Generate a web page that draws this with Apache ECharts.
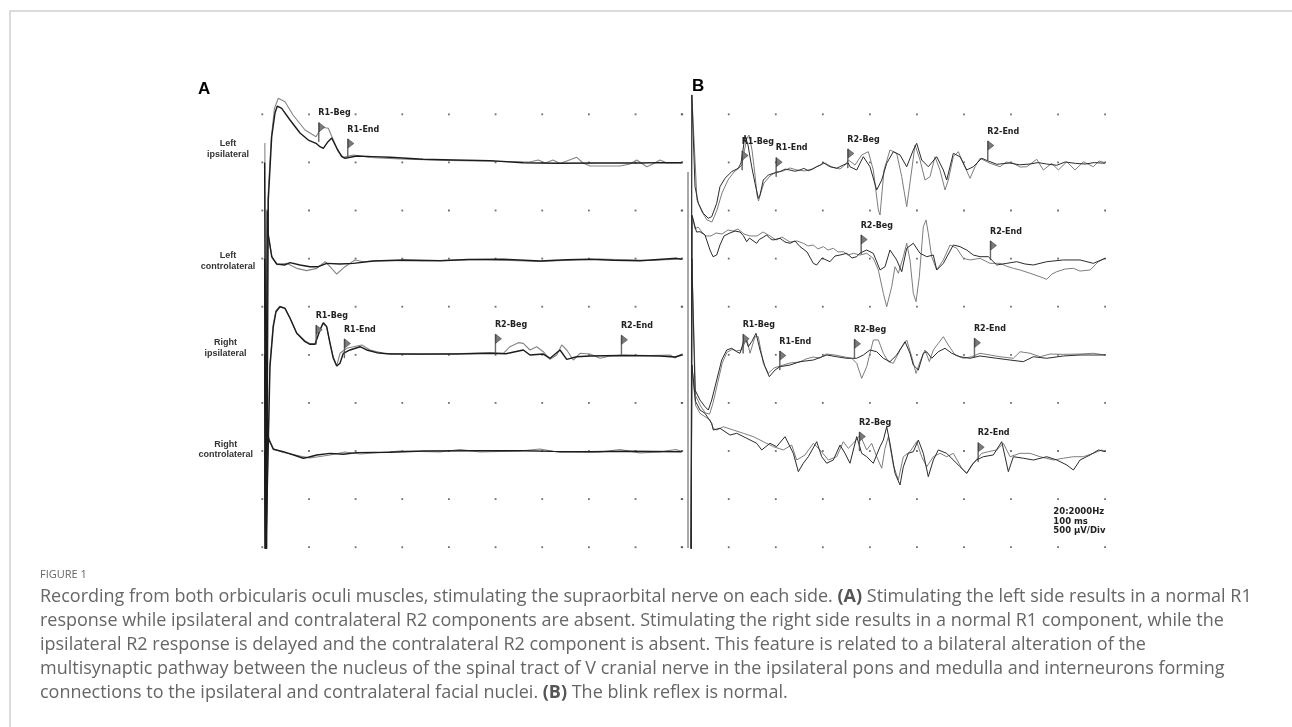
<!DOCTYPE html>
<html><head><meta charset="utf-8">
<script src="https://cdn.jsdelivr.net/npm/echarts@6/dist/echarts.min.js"></script>
<style>html,body{margin:0;padding:0;background:#fff}#c{width:1292px;height:727px}</style>
</head><body><div id="c"></div><script>
// ---- data: time in ms, amplitude in µV relative to each channel baseline ----
const A1_dark = [[0.5,0],[0.9,-4300],[1.1,-4300],[1.28,-390],[2.01,267],[2.71,512],[3.2,585],[4.14,561],[5.92,440],[8.05,305],[9.82,232],[11.47,198],[12.32,163],[13.03,146],[14.03,215],[14.82,253],[15.89,149],[16.96,59],[17.66,43],[20.16,66],[23.5,60],[27.27,53],[34.32,32],[41,25],[48.62,18],[55.67,-3],[62.93,-9],[72.1,-6],[80.65,-6],[85,-2],[89.56,-3]];
const A1_light = [[0.55,200],[0.65,-4300],[1.0,-4300],[1.2,-380],[1.9,250],[2.6,560],[3.42,665],[4.85,630],[6.56,492],[9.12,336],[11.47,267],[12.68,364],[14.09,354],[15.16,232],[16.23,111],[17.3,53],[19.43,77],[23.0,51],[29.4,35],[40.1,20],[50.7,9],[57.1,4],[58.94,25],[60.4,-6],[62.08,25],[63.6,-11],[67.14,53],[68.48,-6],[69.97,-37],[73.2,-37],[76.4,-37],[78.5,-17],[79.95,25],[80.9,-6],[82.09,-45],[83.4,-17],[84.92,25],[86.4,-6],[89.56,-3]];
const A2_dark = [[0.5,0],[0.7,-3300],[0.95,-3300],[1.05,500],[1.22,268],[2.01,22],[3.07,-54],[4.85,-64],[5.92,-40],[8.05,-64],[10.19,-82],[11.96,-82],[13.75,-47],[16.59,-54],[19.43,-47],[23.7,-23],[30.11,-12],[37.95,-20],[44,-8],[51.47,-5],[59.29,-23],[65,-10],[69.97,-5],[75,-15],[80.65,-20],[88.49,5],[89.56,-5]];
const A2_light = [[0.5,0],[0.7,-3300],[0.95,-3300],[1.05,520],[1.25,250],[2.1,10],[3.2,-60],[5.21,-47],[7.35,-99],[9.48,-123],[11.62,-99],[13.39,-30],[14.46,-82],[15.89,-158],[17.66,-82],[19.8,-12],[21.57,-30],[25.1,-18],[33.7,-23],[46.5,-7],[59.3,-28],[72.1,-2],[82.8,-18],[89.56,-2]];
const A3_dark = [[0.5,0],[0.7,-2200],[1.1,-2200],[1.64,-119],[2.35,296],[2.93,451],[3.78,503],[4.85,486],[5.92,383],[7.35,227],[9.12,140],[10.19,113],[11.25,113],[12.32,261],[13.03,337],[13.75,296],[14.46,123],[15.16,-32],[15.89,-112],[16.59,-84],[17.3,20],[18.73,54],[20.86,88],[22.29,54],[24.43,26],[27.27,12],[41.51,12],[48.62,20],[52,15],[55.73,54],[57.16,2],[60.0,12],[61.44,-32],[63.57,54],[65.0,-43],[67.14,-16],[69.97,-8],[76.4,-3],[84.9,-8],[88.1,-19],[89.56,2]];
const A3_light = [[0.5,0],[0.7,-2200],[1.05,-2200],[1.6,-100],[2.3,310],[2.9,460],[3.7,508],[4.8,490],[5.9,390],[7.3,235],[9.1,150],[10.2,120],[11.3,118],[12.2,250],[12.9,330],[13.7,300],[14.4,140],[15.1,-10],[15.89,-112],[16.59,20],[18.02,72],[21.23,106],[23.0,54],[25.84,20],[33.7,7],[48.62,26],[51.47,20],[52.89,88],[54.67,130],[55.73,123],[57.16,54],[58.59,88],[60.0,36],[61.44,-43],[62.87,2],[63.93,106],[65.0,54],[66.41,-50],[67.84,20],[69.97,12],[72.1,-32],[74.23,-8],[77.09,2],[82.8,-3],[87.1,2],[88.1,-29],[89.56,12]];
const A4_dark = [[0.5,0],[0.65,-1200],[0.9,-1200],[1.1,350],[1.3,150],[1.43,120],[2.35,24],[4.48,-1],[7.35,-46],[8.76,-69],[9.82,-59],[11.62,-35],[14.46,-18],[17.3,-28],[20.16,-11],[27.27,-7],[34.38,6],[45.06,9],[55.73,9],[62,2],[69.97,-1],[78,3],[89.56,-1]];
const A4_light = [[0.5,0],[0.65,-1200],[0.9,-1200],[1.1,370],[1.35,140],[2.4,30],[4.5,-10],[8.05,-46],[10.19,-66],[14.46,-35],[17.66,-4],[20.9,-25],[29.4,6],[37.9,-4],[42.2,22],[46.5,-4],[55.0,6],[59.3,27],[63.6,-9],[72.1,-4],[76.4,22],[80.6,-15],[84.9,-4],[88.3,22],[89.56,1]];

const B1_dark = [[1.95,-4500],[2.1,700],[2.78,-252],[3.48,-424],[4.55,-528],[5.62,-580],[6.34,-563],[7.41,-424],[8.11,-252],[9.18,-165],[10.61,-96],[12.02,-61],[12.6,-6],[13.03,129],[13.45,284],[14.09,180],[14.88,-45],[15.59,-217],[16.29,-372],[16.66,-338],[17.36,-183],[18.43,-131],[19.5,-113],[20.93,-96],[22.0,-70],[23.06,-79],[24.1,-92],[25.2,-79],[26.0,-62],[26.97,-86],[27.9,-70],[28.76,-45],[29.5,-30],[30.17,-3],[31.6,-45],[33.03,-61],[34.44,-27],[35.5,-6],[35.87,-45],[37.3,-79],[38.71,59],[40.14,-45],[41.57,-286],[42.64,-183],[43.71,-9],[45.12,111],[46.55,77],[47.98,-45],[49.39,129],[50.11,198],[51.18,25],[52.59,-45],[54.39,59],[55.8,-79],[56.52,-183],[57.93,94],[59.36,59],[60.79,-79],[62.2,-45],[64.0,43],[64.85,25],[67.2,-20],[70.04,-6],[72.0,-25],[74.31,-17],[76.0,-2],[77.88,-17],[80.0,-30],[81.8,4],[84.0,-10],[86.1,-17],[88.0,-2],[90.3,-9]];
const B1_light = [[1.95,-4500],[2.1,700],[3.2,-390],[4.27,-514],[5.34,-597],[6.41,-618],[7.47,-494],[8.54,-317],[9.82,-183],[11.1,-100],[12.17,-58],[12.81,-27],[13.35,129],[13.88,253],[14.31,284],[14.95,129],[15.59,-131],[16.02,-338],[16.34,-400],[16.87,-307],[17.51,-214],[18.79,-141],[20.07,-100],[21.57,-89],[23.06,-58],[24.56,-79],[26.26,-89],[27.76,-68],[29.04,-37],[30.54,-6],[32.03,-48],[33.74,-68],[35.02,-17],[35.51,25],[36.94,-27],[38.37,77],[39.78,111],[40.85,-79],[41.92,-494],[42.28,-546],[43.13,-79],[44.41,129],[45.84,94],[46.91,-148],[47.98,-460],[49.05,-79],[49.75,180],[50.82,25],[51.89,-183],[52.96,-148],[54.02,59],[55.09,-79],[56.16,-286],[56.86,-183],[57.93,59],[59.0,111],[60.07,-9],[61.5,-165],[62.57,-45],[63.63,43],[65.77,-9],[67.91,-45],[69.2,4],[70.75,-9],[72.18,-48],[73.6,-45],[75.74,32],[77.15,-79],[78.94,-9],[80.36,-79],[82.15,7],[83.93,-79],[85.69,7],[87.83,-45],[89.05,15],[90.33,-3]];
const B2_dark = [[1.95,-3500],[2.15,450],[3.1,278],[3.84,281],[4.91,247],[5.98,91],[6.62,22],[7.41,39],[8.11,143],[8.97,237],[10.25,268],[11.32,288],[12.39,278],[13.1,240],[13.82,177],[14.4,215],[14.95,195],[15.95,161],[16.5,200],[17.08,216],[18.09,247],[18.8,210],[19.43,195],[20.93,213],[21.99,174],[23.06,161],[24.13,185],[25.2,126],[26.69,71],[28.04,-47],[28.76,-64],[29.9,8],[31.6,-30],[32.67,29],[33.74,39],[35.17,57],[36.3,8],[37.3,22],[38.01,60],[39.44,91],[40.85,57],[42.28,-116],[43.35,-82],[44.41,91],[45.84,-12],[46.91,-134],[47.98,109],[49.39,161],[50.82,57],[52.25,22],[53.66,39],[54.39,-116],[55.8,-47],[57.93,143],[59.36,126],[60.79,91],[62.2,39],[63.63,22],[65.41,22],[67.2,-64],[69.34,-47],[71.47,-30],[73.24,-54],[75.02,-64],[77.88,-30],[81.42,-12],[84.99,-12],[87.83,-47],[90.33,5]];
const B2_light = [[1.95,-3500],[2.15,450],[2.78,309],[3.42,330],[4.27,278],[5.12,237],[6.19,237],[7.26,268],[8.54,257],[9.82,299],[10.89,288],[11.96,309],[13.24,257],[14.52,237],[16.02,237],[17.3,278],[18.79,237],[20.07,195],[21.35,226],[23.06,174],[24.56,185],[25.9,161],[26.9,133],[28.04,143],[29.04,102],[30.17,126],[31.18,91],[32.31,109],[33.31,71],[34.44,74],[35.45,39],[36.59,57],[38.01,39],[39.44,57],[40.85,5],[41.92,-116],[42.99,-358],[43.71,-497],[44.78,-289],[45.48,-82],[46.19,-150],[47.26,22],[47.98,161],[48.68,-12],[49.39,-358],[49.97,-445],[50.67,-186],[51.53,333],[52.1,403],[52.59,265],[53.31,22],[54.39,-116],[55.8,-12],[57.23,143],[58.66,109],[60.07,5],[61.5,-12],[63.63,5],[65.77,-47],[67.91,-47],[69.2,-75],[70.75,-99],[72.18,-116],[74.31,-150],[76.45,-186],[77.88,-213],[79.0,-158],[80.0,-134],[81.8,-106],[83.58,-99],[85.0,-127],[87.13,-116],[88.91,-30],[90.33,5]];
const B3_dark = [[1.95,-2200],[2.1,1000],[2.78,-361],[3.84,-465],[4.91,-534],[5.62,-569],[6.34,-465],[7.41,-257],[8.48,-50],[9.55,54],[10.61,72],[11.68,36],[12.39,20],[13.45,192],[14.16,88],[14.88,140],[15.8,227],[16.66,54],[17.72,-119],[18.64,-223],[19.86,-154],[20.93,-119],[23.06,-102],[25.2,-67],[28.04,-50],[30.9,2],[33.03,-16],[35.17,-32],[36.24,-32],[37.3,-32],[38.71,2],[40.14,54],[41.57,36],[42.99,-32],[44.41,-67],[45.84,2],[47.62,140],[48.68,20],[49.39,-102],[50.46,-154],[51.53,20],[52.25,36],[53.31,-32],[54.73,36],[56.16,72],[57.59,20],[59.36,-16],[61.5,-32],[63.63,-8],[67.2,-32],[70.04,-50],[72.88,-67],[75.02,-16],[77.88,-32],[81.42,-8],[84.99,2],[90.33,2]];
const B3_light = [[1.95,-2200],[2.1,1000],[2.9,-420],[4.0,-530],[5.0,-600],[5.9,-610],[6.6,-500],[7.6,-290],[8.6,-80],[9.6,30],[10.7,60],[11.7,45],[12.75,54],[13.82,175],[14.52,20],[15.59,192],[16.29,192],[17.36,-84],[18.43,-188],[19.65,-133],[20.93,-112],[23.06,-81],[25.2,-70],[26.48,-39],[27.97,-19],[29.47,-29],[30.75,12],[32.67,2],[34.81,-19],[36.24,-32],[37.3,-84],[38.37,-240],[39.44,-119],[40.85,158],[41.92,158],[42.99,20],[44.06,-67],[45.12,-84],[46.55,54],[47.98,158],[49.05,-16],[49.97,-188],[50.82,-67],[51.89,54],[52.81,-67],[53.66,54],[54.73,123],[55.8,192],[56.86,106],[58.3,2],[60.07,-32],[61.86,-16],[63.63,20],[65.77,2],[67.91,-16],[70.75,-32],[72.18,36],[74.31,20],[76.45,-16],[78.58,12],[81.42,9],[84.99,12],[87.83,20],[90.33,2]];
const B4_dark = [[1.95,-1200],[2.1,900],[2.9,520],[3.84,432],[4.91,397],[5.62,345],[6.34,294],[6.68,224],[8.11,242],[10.25,172],[11.68,190],[13.82,138],[15.95,86],[17.02,17],[18.79,86],[20.2,51],[21.99,155],[23.77,-18],[24.84,-208],[25.9,-121],[26.97,-53],[28.76,103],[29.83,-53],[30.9,-121],[32.31,-87],[33.74,68],[34.81,-18],[35.87,-121],[37.3,155],[38.37,-18],[39.44,-53],[40.85,-121],[42.28,51],[42.99,120],[43.71,258],[44.41,86],[45.48,-225],[46.55,-346],[47.26,-157],[48.32,-18],[49.39,-1],[50.46,120],[51.53,-18],[52.59,-260],[53.66,-87],[54.73,17],[56.52,-18],[57.93,-87],[59.36,-157],[60.79,-225],[62.2,-121],[62.92,-87],[64.34,-53],[66.47,-35],[68.27,103],[69.68,-208],[70.75,-53],[72.88,-69],[75.02,-87],[77.88,-53],[80.02,-87],[82.15,-139],[83.58,-191],[84.99,-87],[87.13,-35],[88.91,17],[90.33,-1]];
const B4_light = [[1.95,-1200],[2.1,900],[2.9,480],[3.84,397],[5.98,328],[6.68,242],[7.41,224],[8.82,258],[10.95,224],[13.09,190],[15.23,155],[17.36,103],[19.5,51],[21.63,17],[23.42,68],[24.49,-87],[26.26,-35],[28.04,86],[29.47,17],[31.24,-87],[33.03,-53],[34.44,103],[35.51,34],[36.59,86],[38.01,172],[39.44,17],[40.5,86],[41.57,-53],[42.64,-173],[43.35,34],[44.06,155],[45.12,-139],[46.19,-295],[47.26,-53],[48.68,-1],[50.11,103],[51.18,-53],[52.25,-157],[53.66,-53],[55.09,-18],[56.52,-53],[57.93,-18],[59.73,-173],[60.79,-225],[61.86,-139],[62.78,-87],[64.0,-18],[65.41,-1],[67.2,17],[68.61,86],[70.04,-53],[72.18,-18],[74.31,-18],[76.45,-53],[79.3,-87],[81.42,-69],[83.56,-53],[85.69,-53],[87.83,-18],[89.62,17],[90.33,-1]];

// cursor flags: [label, time ms, amplitude µV]
const flagsA1 = [['R1-Beg',11.62,215],['R1-End',17.81,46]];
const flagsA3 = [['R1-Beg',11.04,113],['R1-End',17.08,-29],['R2-Beg',49.33,20],['R2-End',76.23,9]];
const flagsB1 = [['R1-Beg',12.39,-79],['R1-End',19.65,-148],['R2-Beg',34.96,-58],['R2-End',64.85,25]];
const flagsB2 = [['R2-Beg',37.8,50],['R2-End',65.41,-12]];
const flagsB3 = [['R1-Beg',12.6,20],['R1-End',20.44,-154],['R2-Beg',36.37,-32],['R2-End',61.99,-22]];
const flagsB4 = [['R2-Beg',37.43,6],['R2-End',62.78,-105]];

const divCols = [0,1,2,3,4,5,6,7,8,9];
const divRows = [0,1,2,3,4,5,6,7,8,9];
const channelNames = [['Left','ipsilateral'],['Left','controlateral'],['Right','ipsilateral'],['Right','controlateral']];
const panelLetters = ['A','B'];
const settingsText = ['20:2000Hz','100 ms','500 µV/Div'];
const figureLabel = 'FIGURE 1';
const captionLines = [
 'Recording from both orbicularis oculi muscles, stimulating the supraorbital nerve on each side. {b|(A)} Stimulating the left side results in a normal R1',
 'response while ipsilateral and contralateral R2 components are absent. Stimulating the right side results in a normal R1 component, while the',
 'ipsilateral R2 response is delayed and the contralateral R2 component is absent. This feature is related to a bilateral alteration of the',
 'multisynaptic pathway between the nucleus of the spinal tract of V cranial nerve in the ipsilateral pons and medulla and interneurons forming',
 'connections to the ipsilateral and contralateral facial nuclei. {b|(B)} The blink reflex is normal.'
];

// ---- layout ----
const panels = [
  {dot:{left:262.3,width:419.9}, trace:{left:262.3,width:421.5,max:90},
   ch:[[A1_dark,A1_light,flagsA1],[A2_dark,A2_light,null],[A3_dark,A3_light,flagsA3],[A4_dark,A4_light,null]],
   dark:'#1c1c1c', light:'#858585', dw:1.4, lw:1.1},
  {dot:{left:681.7,width:423.4}, trace:{left:682,width:426.2,max:91},
   ch:[[B1_dark,B1_light,flagsB1],[B2_dark,B2_light,flagsB2],[B3_dark,B3_light,flagsB3],[B4_dark,B4_light,flagsB4]],
   dark:'#2b2b2b', light:'#7d7d7d', dw:1.0, lw:1.0}
];
const chRanges = [[-4000,1000],[-3000,2000],[-2000,3000],[-1000,4000]];
const FLAG = 'path://M0,0 L1,0 L1,19 L0,19 Z M1,0 L11,4.5 L1,9 Z';

const grid=[], xAxis=[], yAxis=[], series=[];
panels.forEach(p=>{
  const gi = grid.length;
  grid.push({left:p.dot.left, top:114.3, width:p.dot.width, height:432.9});
  xAxis.push({gridIndex:gi,type:'value',min:0,max:9,show:false});
  yAxis.push({gridIndex:gi,type:'value',min:0,max:9,show:false});
  const pts=[]; divCols.forEach(c=>divRows.forEach(r=>pts.push([c,r])));
  series.push({type:'scatter',xAxisIndex:gi,yAxisIndex:gi,data:pts,symbol:'rect',symbolSize:1.8,
    itemStyle:{color:'#4a4a4a'},silent:true,z:1});
});
panels.forEach(p=>{
  p.ch.forEach((c,k)=>{
    const gi = grid.length;
    grid.push({left:p.trace.left, top:66, width:p.trace.width, height:482});
    xAxis.push({gridIndex:gi,type:'value',min:0,max:p.trace.max,show:false});
    yAxis.push({gridIndex:gi,type:'value',min:chRanges[k][0],max:chRanges[k][1],show:false});
    series.push({type:'line',xAxisIndex:gi,yAxisIndex:gi,data:c[1],showSymbol:false,symbol:'none',
      lineStyle:{color:p.light,width:p.lw},silent:true,z:2});
    const s = {type:'line',xAxisIndex:gi,yAxisIndex:gi,data:c[0],showSymbol:false,symbol:'none',
      lineStyle:{color:p.dark,width:p.dw},silent:true,z:3};
    if(c[2]){
      s.markPoint = {symbol:FLAG,symbolSize:[11,19],symbolOffset:[5,-9.5],symbolKeepAspect:true,silent:true,
        itemStyle:{color:'#7a7a7a',borderColor:'#3a3a3a',borderWidth:0.5},
        label:{show:true,position:[0,-9],align:'left',verticalAlign:'middle',formatter:'{b}',
          fontFamily:'DejaVu Sans',fontWeight:'bold',fontSize:8,color:'#222'},
        data:c[2].map(f=>({name:f[0],coord:[f[1],f[2]]}))};
    }
    series.push(s);
  });
});

// caption font size fitted so the first caption line spans the same width as in the figure
const CAP_FONT = '"Open Sans"';
const mctx = document.createElement('canvas').getContext('2d');
mctx.font = '16px ' + CAP_FONT;
const w1 = mctx.measureText(captionLines[0].replace('{b|','').replace('}','')).width;
let capSize = 16 * 1210 / w1; capSize = Math.max(13, Math.min(19, capSize));

const graphic = [
  {type:'polyline',shape:{points:[[10,727],[10,11],[1292,11]]},style:{stroke:'#cfcfcf',lineWidth:1.5,fill:null},silent:true},
  {type:'line',shape:{x1:688,y1:172,x2:688,y2:548},style:{stroke:'#8c8c8c',lineWidth:1.5},silent:true},
  {type:'text',style:{text:panelLetters[0],x:198,y:89,textVerticalAlign:'middle',verticalAlign:'middle',font:'bold 17px "Liberation Sans", Arial, sans-serif',fill:'#000'}},
  {type:'text',style:{text:panelLetters[1],x:692,y:86,textVerticalAlign:'middle',verticalAlign:'middle',font:'bold 17px "Liberation Sans", Arial, sans-serif',fill:'#000'}}
];
const labelPos = [[228,149],[228,261],[225.5,348],[225.7,449.5]];
channelNames.forEach((n,i)=>{
  graphic.push({type:'text',style:{text:n.join('\n'),x:labelPos[i][0],y:labelPos[i][1],textAlign:'center',align:'center',
    textVerticalAlign:'middle',verticalAlign:'middle',lineHeight:10.5,font:'bold 9px "Liberation Sans", Arial, sans-serif',fill:'#333'},silent:true});
});
settingsText.forEach((t,i)=>{
  graphic.push({type:'text',style:{text:t,x:1053.3,y:511.7+i*9.7,textVerticalAlign:'middle',verticalAlign:'middle',
    font:'bold 8.5px "DejaVu Sans", sans-serif',fill:'#222'},silent:true});
});
graphic.push({type:'text',style:{text:figureLabel,x:40,y:575,textVerticalAlign:'middle',verticalAlign:'middle',
  font:'11px "Open Sans", sans-serif',fill:'#666'},silent:true});
captionLines.forEach((t,i)=>{
  graphic.push({type:'text',style:{text:t,x:40,y:597+i*24,textVerticalAlign:'middle',verticalAlign:'middle',
    font:capSize.toFixed(2)+'px '+CAP_FONT,fontFamily:'Open Sans',fontSize:capSize,fill:'#666',
    rich:{b:{fontFamily:'Open Sans',fontSize:capSize,fontWeight:'bold',fill:'#555',color:'#555'}}},silent:true});
});

const chart = echarts.init(document.getElementById('c'));
chart.setOption({animation:false,backgroundColor:'#fff',grid,xAxis,yAxis,series,graphic});
</script></body></html>
